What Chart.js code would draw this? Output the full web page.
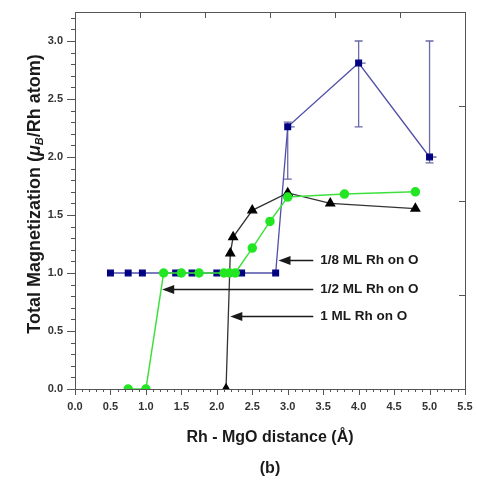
<!DOCTYPE html>
<html>
<head>
<meta charset="utf-8">
<script src="https://cdn.jsdelivr.net/npm/chart.js@4"></script>
<style>
  html, body { margin: 0; padding: 0; background: #fff; }
  #wrap { width: 477px; height: 483px; }
</style>
</head>
<body>
<div id="wrap"><canvas id="mag"></canvas></div>
<script>
// 1/8 ML Rh on O (blue squares, with error bars on the last three points)
var blueX = [0.5, 0.75, 0.95, 1.42, 1.65, 2.0, 2.35, 2.83, 3.0, 4.0, 5.0];
var blueY = [1, 1, 1, 1, 1, 1, 1, 1, 2.26, 2.81, 2.0];
var blueErrLow = [null, null, null, null, null, null, null, null, 1.81, 2.26, 1.95];
var blueErrHigh = [null, null, null, null, null, null, null, null, 2.30, 3.0, 3.0];

// 1/2 ML Rh on O (green circles)
var greenX = [0.75, 1.0, 1.25, 1.5, 1.75, 2.1, 2.18, 2.26, 2.5, 2.75, 3.0, 3.8, 4.8];
var greenY = [0, 0, 1, 1, 1, 1, 1, 1, 1.215, 1.445, 1.655, 1.68, 1.70];

// 1 ML Rh on O (black triangles)
var blackX = [2.13, 2.19, 2.23, 2.5, 3.0, 3.6, 4.8];
var blackY = [0, 1.17, 1.31, 1.54, 1.69, 1.60, 1.555];

// arrow labels: text, arrow tip (data coords), tail x (data)
var noteText = ["1/8 ML Rh on O", "1/2 ML Rh on O", "1 ML Rh on O"];
var noteTipX = [2.87, 1.23, 2.19];
var noteTipY = [1.11, 0.865, 0.63];
var noteTailX = 3.36;

var xTicks = [0, 0.5, 1, 1.5, 2, 2.5, 3, 3.5, 4, 4.5, 5, 5.5];
var yTicks = [0, 0.5, 1, 1.5, 2, 2.5, 3];

function pts(xs, ys) {
  return xs.map(function (x, i) { return { x: x, y: ys[i] }; });
}

var FONT = "'Liberation Sans', Arial, sans-serif";

function noPad(s) {
  s.paddingTop = 0; s.paddingBottom = 0; s.paddingLeft = 0; s.paddingRight = 0;
}

// frame, minor ticks, top/right inward ticks, titles
var decor = {
  id: "decor",
  beforeDatasetsDraw: function (chart) {
    var c = chart.ctx, ys = chart.scales.y;
    var xs = chart.scales.x;
    c.save();
    c.strokeStyle = "#6a6aa8";
    c.lineWidth = 1.3;
    blueX.forEach(function (x, i) {
      if (blueErrLow[i] == null) return;
      var px = xs.getPixelForValue(x);
      var lo = ys.getPixelForValue(blueErrLow[i]);
      var hi = ys.getPixelForValue(blueErrHigh[i]);
      c.beginPath();
      c.moveTo(px, lo); c.lineTo(px, hi);
      c.moveTo(px - 4, lo); c.lineTo(px + 4, lo);
      c.moveTo(px - 4, hi); c.lineTo(px + 4, hi);
      c.moveTo(px, ys.getPixelForValue(blueY[i])); c.lineTo(px + 7, ys.getPixelForValue(blueY[i]));
      c.stroke();
    });
    c.restore();
  },
  afterDraw: function (chart) {
    var c = chart.ctx, a = chart.chartArea;
    var xs = chart.scales.x, ys = chart.scales.y;
    c.save();
    c.strokeStyle = "#555";
    c.lineWidth = 1;
    c.strokeRect(a.left + 0.5, a.top + 0.5, a.right - a.left, a.bottom - a.top);

    c.beginPath();
    // bottom ticks
    for (var i = 0; i <= 55; i++) {
      var v = i / 10;
      var px = Math.round(xs.getPixelForValue(v)) + 0.5;
      var len = (i % 5 === 0) ? 6 : 3;
      c.moveTo(px, a.bottom); c.lineTo(px, a.bottom + len);
    }
    // left ticks
    for (var j = 0; j <= 32; j++) {
      var py = Math.round(ys.getPixelForValue(j / 10)) + 0.5;
      var l2 = (j % 5 === 0) ? 8 : 4;
      c.moveTo(a.left, py); c.lineTo(a.left - l2, py);
    }
    // top ticks, inward (0..6 scale)
    for (var k = 1; k < 6; k++) {
      var tx = Math.round(a.left + (a.right - a.left) * k / 6) + 0.5;
      c.moveTo(tx, a.top); c.lineTo(tx, a.top + 6);
    }
    // right ticks, inward (0..4 scale)
    for (var m = 1; m < 4; m++) {
      var ty = Math.round(a.bottom - (a.bottom - a.top) * m / 4) + 0.5;
      c.moveTo(a.right, ty); c.lineTo(a.right - 6, ty);
    }
    c.stroke();

    // arrows + labels
    c.fillStyle = "#1a1a1a";
    c.strokeStyle = "#1a1a1a";
    c.lineWidth = 1.5;
    c.font = "bold 13.5px " + FONT;
    c.textBaseline = "middle";
    c.textAlign = "left";
    var tail = xs.getPixelForValue(noteTailX);
    noteText.forEach(function (t, n) {
      var tipx = xs.getPixelForValue(noteTipX[n]);
      var tipy = Math.round(ys.getPixelForValue(noteTipY[n])) + 0.5;
      c.beginPath();
      c.moveTo(tail, tipy); c.lineTo(tipx + 10, tipy);
      c.stroke();
      c.beginPath();
      c.moveTo(tipx, tipy);
      c.lineTo(tipx + 12, tipy - 4.5);
      c.lineTo(tipx + 12, tipy + 4.5);
      c.closePath();
      c.fill();
      c.fillText(t, tail + 7, tipy);
    });

    // x title and panel label
    c.fillStyle = "#1a1a1a";
    c.textAlign = "center";
    c.font = "bold 16px " + FONT;
    c.fillText("Rh - MgO distance (\u00C5)", (a.left + a.right) / 2, 438);
    c.fillText("(b)", (a.left + a.right) / 2, 469);

    // y title with italic subscript
    var parts = [
      { t: "Total Magnetization (", f: "bold 18px " + FONT, dy: 0 },
      { t: "\u03BC", f: "italic bold 18px " + FONT, dy: 0 },
      { t: "B", f: "italic bold 11px " + FONT, dy: 5 },
      { t: "/Rh atom)", f: "bold 18px " + FONT, dy: 0 }
    ];
    var total = 0;
    parts.forEach(function (p) { c.font = p.f; p.w = c.measureText(p.t).width; total += p.w; });
    c.translate(35, 194);
    c.rotate(-Math.PI / 2);
    c.textAlign = "left";
    var x0 = -total / 2;
    parts.forEach(function (p) {
      c.font = p.f;
      c.fillText(p.t, x0, p.dy);
      x0 += p.w;
    });
    c.restore();
  }
};

new Chart(document.getElementById("mag"), {
  type: "scatter",
  data: {
    datasets: [
      {
        label: "1/2 ML Rh on O",
        data: pts(greenX, greenY),
        showLine: true,
        borderColor: "#3ee03e",
        borderWidth: 1.5,
        backgroundColor: "#22e622",
        pointBorderColor: "#22e622",
        pointStyle: "circle",
        pointRadius: 4,
        pointHoverRadius: 4
      },
      {
        label: "1 ML Rh on O",
        data: pts(blackX, blackY),
        showLine: true,
        borderColor: "#333",
        borderWidth: 1.3,
        backgroundColor: "#000",
        pointBorderColor: "#000",
        pointStyle: "triangle",
        pointRadius: 5,
        pointHoverRadius: 5
      },
      {
        label: "1/8 ML Rh on O",
        data: pts(blueX, blueY),
        showLine: true,
        borderColor: "#5050a8",
        borderWidth: 1.3,
        backgroundColor: "#000080",
        pointBorderColor: "#000080",
        pointStyle: "rect",
        pointRadius: 4,
        pointHoverRadius: 4
      }
    ]
  },
  options: {
    responsive: true,
    maintainAspectRatio: false,
    animation: false,
    events: [],
    layout: { autoPadding: false, padding: { top: 12, right: 12, left: 0, bottom: 0 } },
    plugins: {
      legend: { display: false },
      tooltip: { enabled: false }
    },
    scales: {
      x: {
        type: "linear",
        min: 0,
        max: 5.5,
        afterBuildTicks: function (s) { s.ticks = xTicks.map(function (v) { return { value: v }; }); },
        afterFit: function (s) { s.height = 94; noPad(s); },
        grid: { display: false, drawTicks: false },
        border: { display: false },
        ticks: {
          padding: 11,
          color: "#333",
          font: { family: FONT, size: 11, weight: "bold" },
          maxRotation: 0,
          callback: function (v) { return v.toFixed(1); }
        }
      },
      y: {
        type: "linear",
        min: 0,
        max: 3.25,
        afterBuildTicks: function (s) { s.ticks = yTicks.map(function (v) { return { value: v }; }); },
        afterFit: function (s) { s.width = 75; noPad(s); },
        grid: { display: false, drawTicks: false },
        border: { display: false },
        ticks: {
          padding: 12,
          color: "#333",
          font: { family: FONT, size: 11, weight: "bold" },
          callback: function (v) { return v.toFixed(1); }
        }
      }
    }
  },
  plugins: [decor]
});
</script>
</body>
</html>
